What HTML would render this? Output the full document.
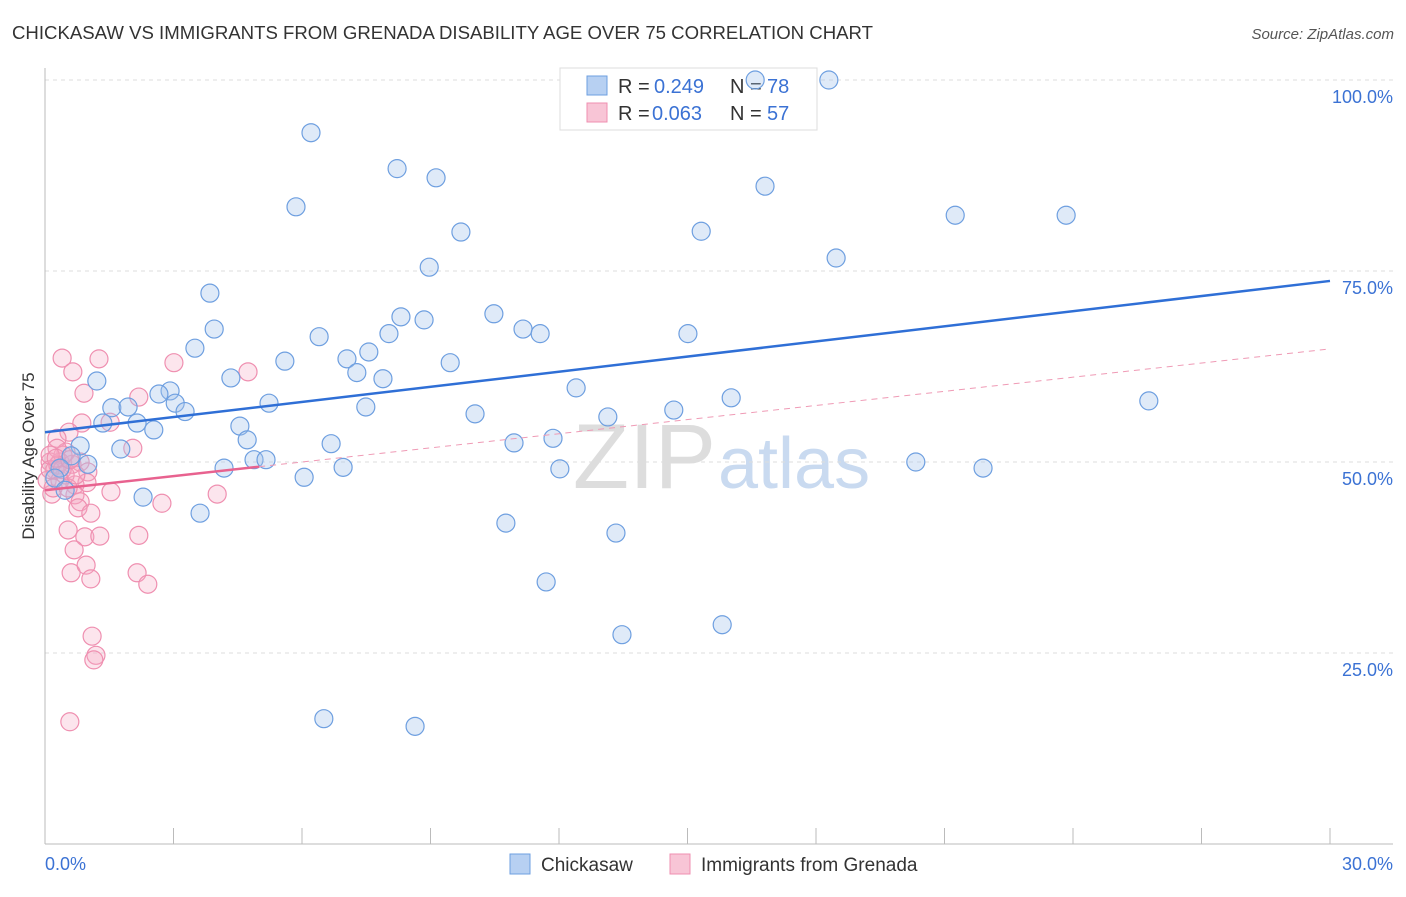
<!DOCTYPE html>
<html><head><meta charset="utf-8"><style>
body{margin:0;background:#fff;font-family:"Liberation Sans",sans-serif}
svg text{font-family:"Liberation Sans",sans-serif}
</style></head><body>
<svg id="c" width="1406" height="892">
<text x="12" y="39" font-size="18.6" fill="#333">CHICKASAW VS IMMIGRANTS FROM GRENADA DISABILITY AGE OVER 75 CORRELATION CHART</text>
<text x="1394" y="39" font-size="15" fill="#555" text-anchor="end" font-style="italic">Source: ZipAtlas.com</text>
<text x="716" y="488" font-size="92" fill="#ddd" text-anchor="end" font-family="Liberation Serif">ZIP</text>
<text x="718" y="488" font-size="72" fill="#c9daf0">atlas</text>
<text transform="translate(34,456) rotate(-90)" font-size="17" fill="#333" text-anchor="middle">Disability Age Over 75</text>
<g id="grid"></g>
<g>
<rect x="560" y="68" width="257" height="62" fill="#fff" stroke="#ddd"/>
<rect x="587" y="76" width="20" height="19" fill="#b7d0f2" stroke="#6e9fe0"/>
<rect x="587" y="103" width="20" height="19" fill="#f8c5d6" stroke="#ef8fb0"/>
<text x="618" y="93" font-size="20" fill="#333">R = </text><text x="654" y="93" font-size="20" fill="#3b72d4">0.249</text>
<text x="730" y="93" font-size="20" fill="#333">N = </text><text x="767" y="93" font-size="20" fill="#3b72d4">78</text>
<text x="618" y="120" font-size="20" fill="#333">R = </text><text x="652" y="120" font-size="20" fill="#3b72d4">0.063</text>
<text x="730" y="120" font-size="20" fill="#333">N = </text><text x="767" y="120" font-size="20" fill="#3b72d4">57</text>
</g>
<g id="pts"></g><g id="lines"></g>
<g>
<rect x="510" y="854" width="20" height="20" fill="#b7d0f2" stroke="#6e9fe0"/>
<text x="541" y="871" font-size="19" fill="#333">Chickasaw</text>
<rect x="670" y="854" width="20" height="20" fill="#f8c5d6" stroke="#ef8fb0"/>
<text x="701" y="871" font-size="19" fill="#333">Immigrants from Grenada</text>
</g>
</svg>
<script>
const xTicks=[0,3,6,9,12,15,18,21,24,27,30];
const yGrid=[25,50,75,100];
const yLabels=["25.0%","50.0%","75.0%","100.0%"];
const blueX=[16.58,18.3,6.21,8.22,9.13,16.81,5.86,21.25,23.84,9.71,15.32,18.47,8.97,3.85,3.95,6.40,8.31,8.85,10.48,11.16,11.56,15.01,8.03,3.50,7.56,5.60,7.05,9.46,7.28,1.21,4.34,7.89,12.40,2.92,2.66,16.02,25.77,1.56,1.94,3.04,3.27,5.23,7.49,10.04,14.68,13.14,1.35,2.15,4.55,2.54,4.72,6.68,10.95,11.86,0.82,1.77,0.61,4.88,5.16,1.00,4.18,6.96,12.02,20.33,21.90,6.05,2.29,3.62,10.76,13.33,11.70,13.47,15.81,6.51,8.64,0.35,0.23,0.47];
const blueY=[100,100,93.1,88.4,87.2,86.1,83.4,82.3,82.3,80.1,80.2,76.7,75.5,72.1,67.4,66.4,69.0,68.6,69.4,67.4,66.8,66.8,66.8,64.9,64.4,63.2,63.5,63.0,61.7,60.6,61.0,60.9,59.7,59.3,58.9,58.4,58.0,57.1,57.2,57.7,56.6,57.7,57.2,56.3,56.8,55.9,55.1,55.1,54.7,54.2,52.9,52.4,52.5,53.1,52.1,51.7,50.8,50.3,50.3,49.7,49.2,49.3,49.1,50.0,49.2,48.0,45.4,43.3,42.0,40.7,34.3,27.4,28.7,16.4,15.4,49.2,47.9,46.3];
const pinkX=[0.40,1.26,0.65,3.01,4.74,0.91,2.19,0.86,1.52,0.56,0.28,2.05,0.49,0.35,0.12,0.63,0.82,0.23,1.00,0.05,0.35,0.70,0.98,1.54,4.02,0.16,0.70,0.82,2.73,0.77,1.07,0.54,0.93,1.28,2.19,0.68,0.61,0.96,2.15,1.07,2.40,1.10,1.19,1.14,0.58,0.30,0.42,0.47,0.12,0.19,0.28,0.40,0.54,0.72,0.12,0.26,0.58];
const pinkY=[63.6,63.5,61.8,63.0,61.8,59.0,58.5,55.1,55.2,53.9,53.1,51.8,51.3,50.0,50.0,49.7,50.0,49.0,48.7,47.6,47.6,47.0,47.3,46.1,45.8,45.8,45.7,44.8,44.6,44.0,43.3,41.1,40.2,40.3,40.4,38.5,35.5,36.5,35.5,34.7,34.0,27.2,24.7,24.1,16.0,49.6,50.9,48.3,49.0,46.6,51.8,49.0,46.6,48.3,50.9,50.5,50.3];
const blueTrend=[53.9,73.7];
const pinkTrend=[46.3,64.8];
const pinkSolidEnd=5;
const X=v=>45+v/30*1285, Y=v=>844-v/100*764;
const NS="http://www.w3.org/2000/svg";
function mk(t,a,p){const e=document.createElementNS(NS,t);for(const k in a)e.setAttribute(k,a[k]);p.appendChild(e);return e;}
const g=document.getElementById('grid');
yGrid.forEach((v,i)=>{
 const l=mk('line',{x1:45,x2:1393,y1:Y(v),y2:Y(v),stroke:'#ddd','stroke-dasharray':'4,4'},g);
 
 
 const t=mk('text',{x:1393,y:Y(v)+23,'font-size':18,fill:'#3b72d4','text-anchor':'end'},g);t.textContent=yLabels[i];
 
 
});
mk('line',{x1:45,x2:45,y1:68,y2:844,stroke:'#bbb'},g);
mk('line',{x1:45,x2:1393,y1:844,y2:844,stroke:'#bbb'},g);
xTicks.forEach(v=>{const l=mk('line',{x1:X(v),x2:X(v),y1:828,y2:844,stroke:'#bbb'},g);
 
 });
let t=mk('text',{x:45,y:870,'font-size':18,fill:'#3b72d4'},g);t.textContent='0.0%';

t=mk('text',{x:1393,y:870,'font-size':18,fill:'#3b72d4','text-anchor':'end'},g);t.textContent='30.0%';

const p=document.getElementById('pts');
pinkX.forEach((x,i)=>{const c=mk('circle',{cx:X(x),cy:Y(pinkY[i]),r:9,fill:'rgba(244,170,195,0.3)',stroke:'#ef8fb0','stroke-width':1.2},p);
 
 });
blueX.forEach((x,i)=>{const c=mk('circle',{cx:X(x),cy:Y(blueY[i]),r:9,fill:'rgba(164,196,236,0.35)',stroke:'#6e9fe0','stroke-width':1.2},p);
 
 });
const L=document.getElementById('lines');
let e=mk('line',{x1:X(0),y1:Y(blueTrend[0]),x2:X(30),y2:Y(blueTrend[1]),stroke:'#2f6fd6','stroke-width':2.5},L);


const pv=x=>pinkTrend[0]+(pinkTrend[1]-pinkTrend[0])*x/30;
e=mk('line',{x1:X(0),y1:Y(pv(0)),x2:X(pinkSolidEnd),y2:Y(pv(pinkSolidEnd)),stroke:'#e8628f','stroke-width':2.5},L);


e=mk('line',{x1:X(pinkSolidEnd),y1:Y(pv(pinkSolidEnd)),x2:X(30),y2:Y(pv(30)),stroke:'#ef9ab5','stroke-width':1,'stroke-dasharray':'6,5'},L);


</script>
</body></html>
